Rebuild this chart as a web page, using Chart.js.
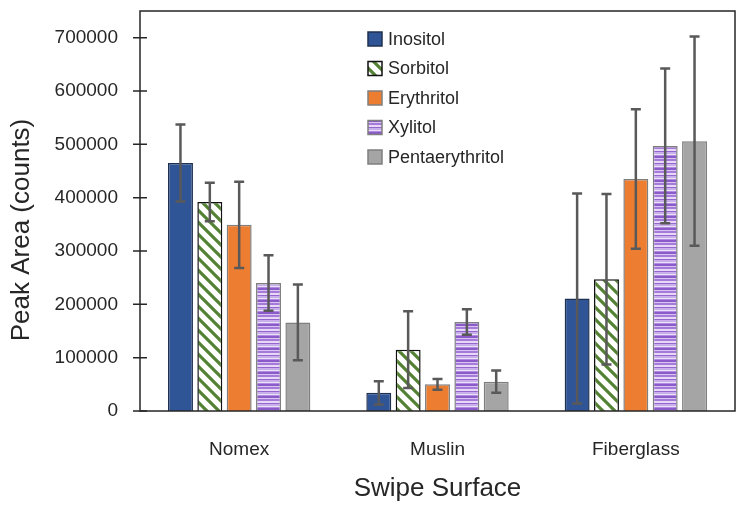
<!DOCTYPE html>
<html>
<head>
<meta charset="utf-8">
<script src="https://cdn.jsdelivr.net/npm/chart.js@4"></script>
<style>
  html, body { margin: 0; padding: 0; background: #fff; }
</style>
</head>
<body>
<canvas id="grafica" width="746" height="513"></canvas>
<script>
// datos
const superficies = ['Nomex', 'Muslin', 'Fiberglass'];
const compuestos = ['Inositol', 'Sorbitol', 'Erythritol', 'Xylitol', 'Pentaerythritol'];

const inositol = [465000, 34000, 211000];
const sorbitol = [392000, 115000, 247000];
const erythritol = [349000, 50000, 435000];
const xylitol = [240000, 167000, 497000];
const pentaerythritol = [166000, 55000, 506000];

const errInositol = [72000, 22000, 197000];
const errSorbitol = [36000, 72000, 160000];
const errErythritol = [81000, 10000, 131000];
const errXylitol = [52000, 24000, 145000];
const errPentaerythritol = [71000, 21000, 196000];

const yTicks = [0, 100000, 200000, 300000, 400000, 500000, 600000, 700000];
const tituloY = 'Peak Area (counts)';

// patrones de relleno
function patronRayas() {
    const c = document.createElement('canvas');
    c.width = 12; c.height = 12;
    const g = c.getContext('2d');
    g.fillStyle = '#ffffff';
    g.fillRect(0, 0, 12, 12);
    g.strokeStyle = '#548235';
    g.lineWidth = 3.2;
    g.beginPath();
    for (let k = -12; k <= 12; k += 12) {
        g.moveTo(k - 2, -2);
        g.lineTo(k + 14, 14);
    }
    g.stroke();
    return g.createPattern(c, 'repeat');
}

function patronHorizontal() {
    const filas = ['#8b5bc9', '#8b5bc9', '#d8c4f0', '#a57ad9', '#a57ad9', '#e6d8f6',
                   '#e6d8f6', '#9565d0', '#c8aeea', '#c8aeea', '#ece2f8', '#b08ae0'];
    const c = document.createElement('canvas');
    c.width = 8; c.height = filas.length;
    const g = c.getContext('2d');
    filas.forEach((col, r) => {
        g.fillStyle = col;
        g.fillRect(0, r, 8, 1);
    });
    return g.createPattern(c, 'repeat');
}

const errores = [errInositol, errSorbitol, errErythritol, errXylitol, errPentaerythritol];

const barrasError = {
    id: 'barrasError',
    afterDatasetsDraw(chart) {
        const ctx = chart.ctx;
        const y = chart.scales.y;
        ctx.save();
        ctx.strokeStyle = '#595959';
        ctx.lineWidth = 2.5;
        chart.data.datasets.forEach((ds, i) => {
            const meta = chart.getDatasetMeta(i);
            meta.data.forEach((bar, j) => {
                const v = ds.data[j];
                const e = errores[i][j];
                const yTop = y.getPixelForValue(v + e);
                const yBot = y.getPixelForValue(v - e);
                ctx.beginPath();
                ctx.moveTo(bar.x, yTop);
                ctx.lineTo(bar.x, yBot);
                ctx.moveTo(bar.x - 5, yTop);
                ctx.lineTo(bar.x + 5, yTop);
                ctx.moveTo(bar.x - 5, yBot);
                ctx.lineTo(bar.x + 5, yBot);
                ctx.stroke();
            });
        });
        ctx.restore();
    }
};

const marco = {
    id: 'marco',
    afterDraw(chart) {
        const ctx = chart.ctx;
        const a = chart.chartArea;
        const y = chart.scales.y;
        ctx.save();
        ctx.strokeStyle = '#262626';
        ctx.lineWidth = 1.5;
        ctx.strokeRect(a.left, a.top, a.right - a.left, a.bottom - a.top);
        ctx.beginPath();
        yTicks.forEach(t => {
            const py = y.getPixelForValue(t);
            ctx.moveTo(a.left - 7, py);
            ctx.lineTo(a.left + 7, py);
        });
        ctx.stroke();
        // titulo del eje y, algo por debajo del centro como en el original
        ctx.translate(22, a.top + (a.bottom - a.top) / 2 + 19);
        ctx.rotate(-Math.PI / 2);
        ctx.font = '26px "Liberation Sans", Arial, sans-serif';
        ctx.fillStyle = '#262626';
        ctx.textAlign = 'center';
        ctx.textBaseline = 'middle';
        ctx.fillText(tituloY, 0, 0);
        ctx.restore();
    }
};

const leyenda = {
    id: 'leyenda',
    afterDraw(chart) {
        const ctx = chart.ctx;
        const a = chart.chartArea;
        const x0 = a.left + 228;
        const y0 = a.top + 28;
        ctx.save();
        ctx.font = '18px "Liberation Sans", Arial, sans-serif';
        ctx.textBaseline = 'middle';
        chart.data.datasets.forEach((ds, i) => {
            const yy = y0 + i * 29.5;
            ctx.fillStyle = ds.backgroundColor;
            ctx.fillRect(x0, yy - 7, 14, 14);
            ctx.strokeStyle = ds.borderColor;
            ctx.lineWidth = 1.5;
            ctx.strokeRect(x0, yy - 7, 14, 14);
            ctx.fillStyle = '#262626';
            ctx.fillText(ds.label, x0 + 20, yy + 1);
        });
        ctx.restore();
    }
};

const ctx = document.getElementById('grafica').getContext('2d');

new Chart(ctx, {
    type: 'bar',
    data: {
        labels: superficies,
        datasets: [
            { label: compuestos[0], data: inositol, backgroundColor: '#2f5597', borderColor: '#1f3050', borderWidth: 1.5 },
            { label: compuestos[1], data: sorbitol, backgroundColor: patronRayas(), borderColor: '#111111', borderWidth: 1.5 },
            { label: compuestos[2], data: erythritol, backgroundColor: '#ed7d31', borderColor: '#7f7f7f', borderWidth: 1.5 },
            { label: compuestos[3], data: xylitol, backgroundColor: patronHorizontal(), borderColor: '#7f7f7f', borderWidth: 1.5 },
            { label: compuestos[4], data: pentaerythritol, backgroundColor: '#a5a5a5', borderColor: '#7f7f7f', borderWidth: 1.5 }
        ]
    },
    options: {
        responsive: false,
        devicePixelRatio: 1,
        animation: false,
        layout: { padding: { top: 11, right: 11, left: 0, bottom: 0 } },
        datasets: {
            bar: { categoryPercentage: 0.74, barPercentage: 0.85 }
        },
        plugins: {
            legend: { display: false },
            tooltip: { enabled: false }
        },
        scales: {
            x: {
                grid: { display: false },
                border: { display: false },
                ticks: {
                    color: '#262626',
                    padding: 19,
                    font: { family: '"Liberation Sans", Arial, sans-serif', size: 19 }
                },
                title: {
                    display: true,
                    text: 'Swipe Surface',
                    color: '#262626',
                    padding: { top: 0, bottom: 9 },
                    font: { family: '"Liberation Sans", Arial, sans-serif', size: 26 }
                },
                afterFit(scale) {
                    scale.height = 102;
                    scale.paddingLeft = 0;
                    scale.paddingRight = 0;
                }
            },
            y: {
                min: 0,
                max: 750000,
                grid: { display: false },
                border: { display: false },
                afterBuildTicks(scale) { scale.ticks = yTicks.map(v => ({ value: v })); },
                ticks: {
                    color: '#262626',
                    padding: 14,
                    font: { family: '"Liberation Sans", Arial, sans-serif', size: 19 },
                    callback: v => String(v)
                },
                title: { display: false },
                afterFit(scale) {
                    scale.width = 140;
                    scale.paddingTop = 0;
                    scale.paddingBottom = 0;
                }
            }
        }
    },
    plugins: [barrasError, marco, leyenda]
});
</script>
</body>
</html>
